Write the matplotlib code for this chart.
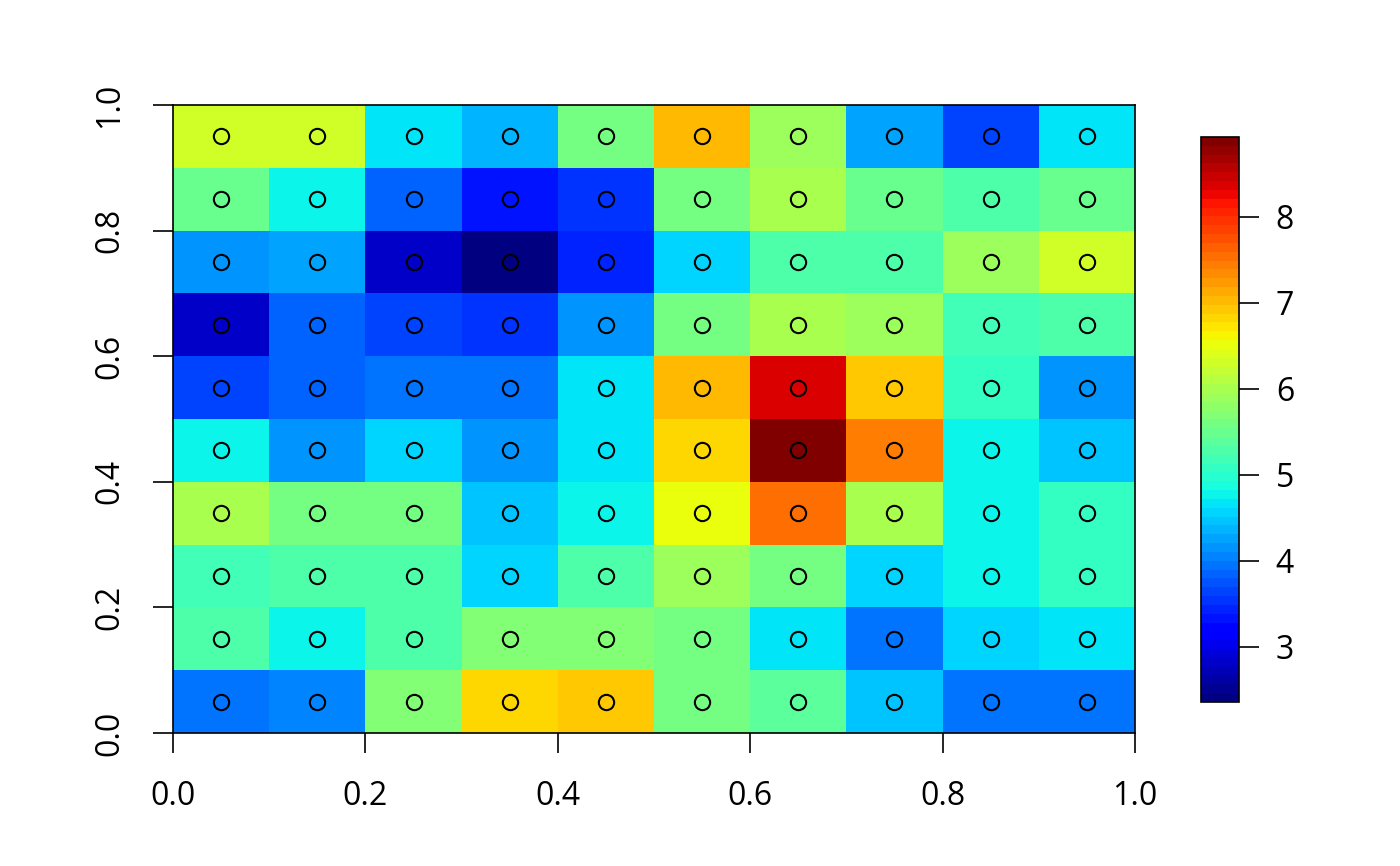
import numpy as np
import matplotlib
matplotlib.use('Agg')
import matplotlib.pyplot as plt

plt.rcParams['font.family'] = ['Open Sans', 'DejaVu Sans']

# grid cell centres
xs = [0.05, 0.15, 0.25, 0.35, 0.45, 0.55, 0.65, 0.75, 0.85, 0.95]
ys = [0.05, 0.15, 0.25, 0.35, 0.45, 0.55, 0.65, 0.75, 0.85, 0.95]

# values, one row per y (bottom row first)
row_005 = [3.90, 4.05, 5.70, 6.80, 6.92, 5.55, 5.35, 4.50, 3.90, 4.00]
row_015 = [5.28, 4.80, 5.32, 5.70, 5.70, 5.55, 4.66, 4.00, 4.60, 4.71]
row_025 = [5.18, 5.25, 5.32, 4.60, 5.28, 5.90, 5.55, 4.60, 4.80, 5.05]
row_035 = [6.00, 5.60, 5.60, 4.50, 4.80, 6.56, 7.55, 6.00, 4.80, 5.05]
row_045 = [4.80, 4.17, 4.60, 4.20, 4.66, 6.80, 8.93, 7.45, 4.75, 4.50]
row_055 = [3.68, 3.80, 3.90, 3.90, 4.66, 7.05, 8.40, 6.92, 5.05, 4.20]
row_065 = [2.85, 3.84, 3.68, 3.58, 4.20, 5.55, 6.00, 5.90, 5.18, 5.25]
row_075 = [4.20, 4.27, 2.80, 2.36, 3.40, 4.60, 5.25, 5.32, 5.90, 6.30]
row_085 = [5.50, 4.80, 3.80, 3.29, 3.58, 5.55, 6.00, 5.52, 5.25, 5.52]
row_095 = [6.30, 6.30, 4.71, 4.40, 5.60, 7.05, 5.90, 4.27, 3.65, 4.71]

z = np.array([row_005, row_015, row_025, row_035, row_045,
              row_055, row_065, row_075, row_085, row_095])

xc = np.array(xs)
yc = np.array(ys)
xe = np.concatenate([[xc[0] - 0.05], xc + 0.05])
ye = np.concatenate([[yc[0] - 0.05], yc + 0.05])

cmap = plt.get_cmap('jet', 64)

fig = plt.figure(figsize=(14, 8.66), dpi=100)
ax = fig.add_axes([0.1236, 0.1536, 0.6871, 0.7252])
mesh = ax.pcolormesh(xe, ye, z, cmap=cmap, vmin=z.min(), vmax=z.max())

X, Y = np.meshgrid(xc, yc)
ax.plot(X.ravel(), Y.ravel(), 'o', mfc='none', mec='black', ms=11, mew=1.5)

ax.set_xlim(0, 1)
ax.set_ylim(0, 1)
ticks = [0.0, 0.2, 0.4, 0.6, 0.8, 1.0]
ax.set_xticks(ticks)
ax.set_yticks(ticks)
ax.set_xticklabels(['%.1f' % t for t in ticks])
ax.set_yticklabels(['%.1f' % t for t in ticks], rotation=90, va='center')
ax.tick_params(direction='out', length=14.5, width=1.2, labelsize=23, pad=19)
for s in ax.spines.values():
    s.set_linewidth(1.2)

cax = fig.add_axes([0.8579, 0.1894, 0.0271, 0.6524])
cb = fig.colorbar(mesh, cax=cax, ticks=[3, 4, 5, 6, 7, 8])
cb.outline.set_linewidth(1.2)
cax.tick_params(direction='out', length=14.5, width=1.2, labelsize=23, pad=12)

fig.savefig('out.png', dpi=100)
